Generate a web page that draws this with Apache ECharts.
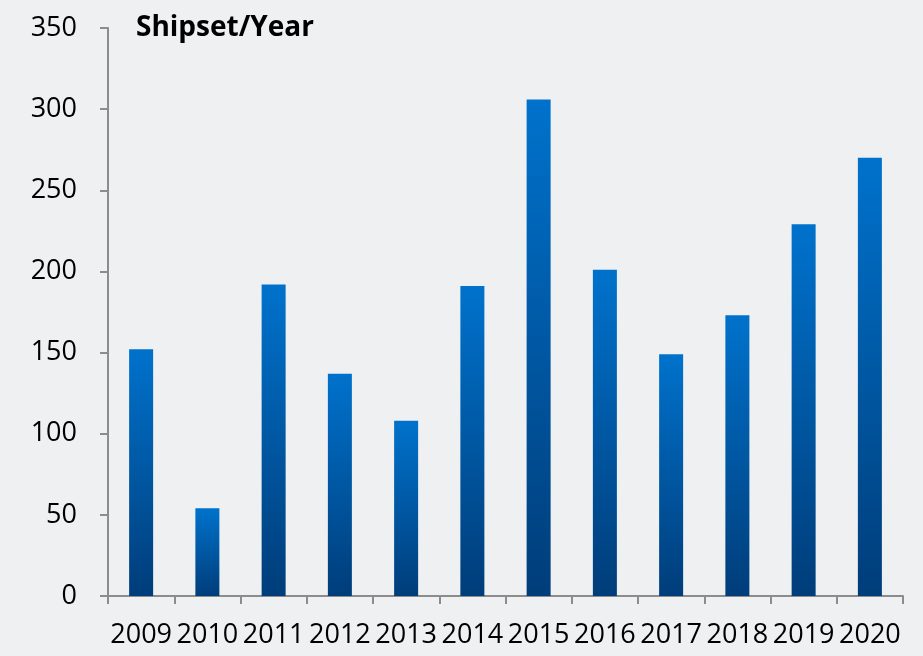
<!DOCTYPE html>
<html lang="en">
<head>
<meta charset="utf-8">
<title>Shipset/Year</title>
<script src="https://cdn.jsdelivr.net/npm/echarts@6/dist/echarts.min.js"></script>
<style>
  html, body { margin: 0; padding: 0; background: #eff0f2; }
  #chart { width: 923px; height: 656px; }
</style>
</head>
<body>
<div id="chart"></div>
<script type="text/javascript">
  // values
  let years = ['2009', '2010', '2011', '2012', '2013', '2014', '2015', '2016', '2017', '2018', '2019', '2020'];
  let shipsets = [152, 54, 192, 137, 108, 191, 306, 201, 149, 173, 229, 270];

  let chart = echarts.init(document.getElementById('chart'));

  let barColor = new echarts.graphic.LinearGradient(0, 0, 0, 1, [
    { offset: 0, color: '#0072cc' },
    { offset: 1, color: '#003d7a' }
  ]);

  let option = {
    backgroundColor: '#eff0f2',
    animation: false,
    title: {
      text: 'Shipset/Year',
      left: 131,
      top: 9,
      textStyle: {
        fontFamily: 'Open Sans',
        fontWeight: 'bold',
        fontSize: 28,
        color: '#000'
      }
    },
    grid: {
      left: 108,
      right: 20,
      top: 28,
      bottom: 60
    },
    xAxis: {
      type: 'category',
      data: years,
      axisLine: { lineStyle: { color: '#8c8c8c', width: 2 } },
      axisTick: { show: true, length: 8, lineStyle: { color: '#8c8c8c', width: 2 } },
      axisLabel: {
        interval: 0,
        margin: 26,
        fontFamily: 'Open Sans',
        fontSize: 27,
        color: '#000'
      }
    },
    yAxis: {
      type: 'value',
      min: 0,
      max: 350,
      interval: 50,
      splitLine: { show: false },
      axisLine: { show: true, lineStyle: { color: '#8c8c8c', width: 2 } },
      axisTick: { show: true, length: 8, lineStyle: { color: '#8c8c8c', width: 2 } },
      axisLabel: {
        margin: 31,
        fontFamily: 'Open Sans',
        fontSize: 27,
        color: '#000'
      }
    },
    series: [
      {
        name: 'Shipset',
        type: 'bar',
        data: shipsets,
        barWidth: 24,
        itemStyle: { color: barColor }
      }
    ]
  };

  chart.setOption(option);
</script>
</body>
</html>
